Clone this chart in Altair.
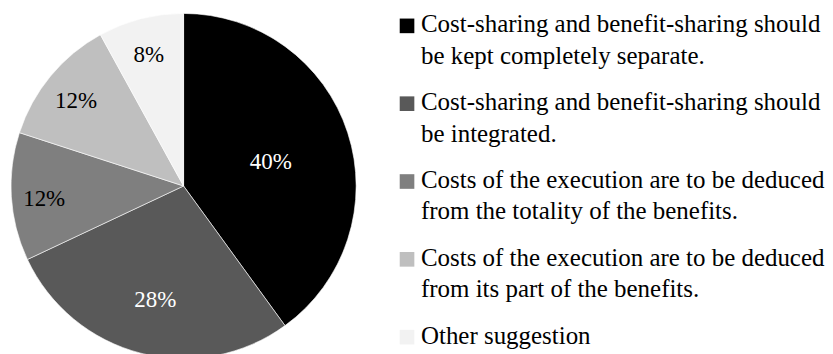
import altair as alt
import pandas as pd

categories = [
    "Cost-sharing and benefit-sharing should be kept completely separate.",
    "Cost-sharing and benefit-sharing should be integrated.",
    "Costs of the execution are to be deduced from the totality of the benefits.",
    "Costs of the execution are to be deduced from its part of the benefits.",
    "Other suggestion",
]
legend_labels = [
    "Cost-sharing and benefit-sharing should\nbe kept completely separate.",
    "Cost-sharing and benefit-sharing should\nbe integrated.",
    "Costs of the execution are to be deduced\nfrom the totality of the benefits.",
    "Costs of the execution are to be deduced\nfrom its part of the benefits.",
    "Other suggestion",
]
shares = [40, 28, 12, 12, 8]
colors = ["#000000", "#595959", "#7f7f7f", "#bfbfbf", "#f2f2f2"]

df = pd.DataFrame({
    "category": categories,
    "legend": legend_labels,
    "share": shares,
    "order": list(range(len(categories))),
})

FONT = "Liberation Serif"
color_scale = alt.Scale(domain=categories, range=colors)

base = alt.Chart(df).transform_calculate(
    label="datum.share + '%'"
).encode(
    theta=alt.Theta("share:Q", stack=True),
    order=alt.Order("order:Q"),
)

arcs = base.mark_arc(radius=173, stroke="white", strokeWidth=0.6).encode(
    color=alt.Color("category:N", scale=color_scale, legend=None)
)

def label_layer(test, radius, color):
    return base.mark_text(
        radius=radius, font=FONT, fontSize=23, color=color,
        align="center", baseline="middle", dy=4
    ).encode(
        text=alt.condition(test, alt.Text("label:N"), alt.value(""))
    )

lab_big = label_layer("datum.share >= 35", 92, "white")
lab_mid = label_layer("datum.share >= 20 && datum.share < 35", 114, "white")
lab_small = label_layer("datum.share < 20", 140, "black")

pie = (arcs + lab_big + lab_mid + lab_small).properties(width=352, height=356)

legend_base = alt.Chart(df).encode(
    y=alt.Y(
        "category:N", sort=categories, axis=None,
        scale=alt.Scale(type="point", padding=0.224),
    )
)
swatches = legend_base.mark_square(size=215, opacity=1).encode(
    color=alt.Color("category:N", scale=color_scale, legend=None)
)
texts = legend_base.mark_text(
    align="left", baseline="alphabetic", dx=14, dy=6.5,
    lineBreak="\n", lineHeight=31.5, font=FONT, fontSize=25, color="black",
).encode(text="legend:N")

legend = (swatches + texts).properties(width=16, height=347)

chart = alt.hconcat(pie, legend, spacing=40).properties(
    padding=0
).configure_view(stroke=None).configure_concat(spacing=40)

chart.save("out.html", embed_options={"renderer": "svg", "actions": False})
